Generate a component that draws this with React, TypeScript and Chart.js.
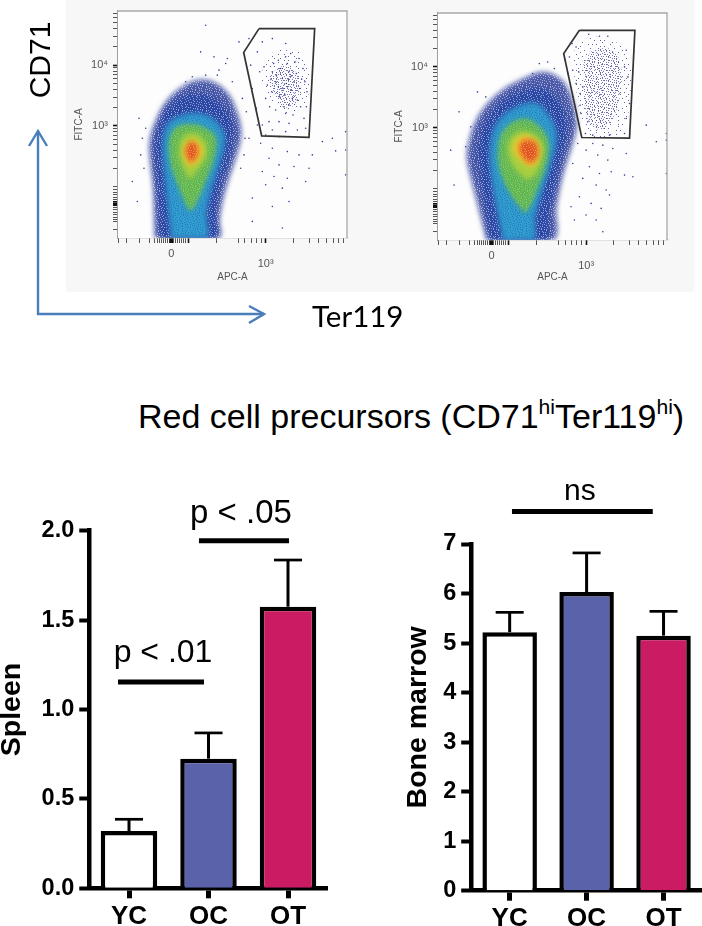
import React, { useEffect, useRef } from "react";
import { Chart, registerables } from "chart.js";

const FONT = "'Liberation Sans', Arial, sans-serif";

// ---------- Flow cytometry plots: values are display channels (0 = the "0" tick on APC-A, 0 = bottom edge on FITC-A)
const apcTicks = [-163, -138, -98, -68, -53, -45, -38, -32, -26, -20, -14, -8, -3, 4, 10, 16, 22, 28, 34, 40, 49, 132, 197, 217, 237, 252, 267, 280, 362, 410, 437, 462, 482, 497, 512];
const apcMajor = [-3, 49, 280];
const apcLabels: Record<number, string | string[]> = { [-3]: "0", 280: ["", "10³"] };
const fitcTicks = [25, 50, 55, 62, 70, 78, 85, 92, 98, 105, 108, 115, 122, 130, 138, 145, 154, 209, 241, 264, 282, 296, 309, 319, 329, 337, 392, 424, 447, 465, 479, 492, 502, 512, 520, 575, 607, 630, 648, 662, 675];
const fitcMajor = [105, 337, 520];
const fitcLabels: Record<number, string> = { 337: "10³", 520: "10⁴" };

const levelColors = ["#4a59a8", "#2a47a6", "#2f9dcf", "#5fb858", "#a8cf3f", "#f2c630", "#e2532a"];

const plot1Levels: number[][][] = [
  [[-53, 0], [-55, 75], [-58, 155], [-68, 245], [-68, 295], [-53, 345], [-23, 405], [22, 450], [72, 475], [122, 470], [167, 435], [192, 385], [207, 315], [192, 245], [172, 185], [152, 115], [142, 55], [140, 0]],
  [[-38, 0], [-40, 95], [-48, 215], [-48, 295], [-28, 365], [12, 415], [72, 435], [132, 415], [172, 365], [182, 315], [167, 235], [142, 155], [127, 75], [127, 0]],
  [[-3, 0], [-13, 95], [-23, 195], [-28, 285], [-13, 345], [32, 370], [82, 375], [127, 355], [157, 305], [142, 225], [117, 145], [102, 75], [102, 0]],
  [[47, 85], [22, 145], [-3, 215], [-10, 285], [7, 330], [47, 343], [92, 335], [130, 305], [127, 245], [102, 175], [77, 115], [60, 85]],
  [[52, 175], [27, 225], [20, 275], [37, 310], [72, 315], [102, 285], [102, 245], [77, 205]],
  [[52, 215], [34, 250], [40, 285], [67, 295], [90, 270], [82, 235]],
  [[54, 225], [40, 260], [54, 290], [74, 280], [74, 245]],
];
const plot2Levels: number[][][] = [
  [[-18, 0], [-38, 80], [-58, 160], [-76, 240], [-70, 300], [-38, 380], [22, 445], [92, 485], [152, 505], [202, 485], [232, 440], [252, 350], [237, 280], [212, 200], [192, 100], [182, 0]],
  [[-8, 0], [-20, 100], [-35, 190], [-43, 270], [-28, 340], [22, 410], [92, 450], [162, 450], [207, 400], [222, 330], [202, 240], [182, 150], [167, 70], [162, 0]],
  [[32, 0], [12, 100], [-3, 190], [-8, 270], [12, 350], [72, 400], [132, 410], [177, 360], [192, 310], [172, 220], [147, 140], [127, 70], [122, 0]],
  [[97, 80], [52, 140], [22, 210], [17, 280], [37, 335], [92, 365], [137, 345], [167, 300], [162, 230], [137, 160], [112, 100]],
  [[102, 180], [57, 230], [47, 290], [77, 325], [122, 320], [152, 285], [147, 240], [127, 195]],
  [[107, 220], [67, 260], [67, 295], [102, 315], [137, 290], [142, 255], [127, 225]],
  [[107, 230], [80, 270], [92, 300], [127, 295], [137, 260], [122, 235]],
];

const plot1Gate = [[260, 630], [427, 630], [410, 303], [268, 307], [214, 558], [260, 630]];
const plot2Gate = [[260, 630], [426, 630], [410, 306], [267, 308], [213, 560], [260, 630]];

// Regions of the gated population: whole spread and denser core
const plot1Spread = [[272, 525], [312, 565], [372, 565], [407, 515], [407, 425], [362, 375], [312, 395], [272, 455]];
const plot1Core = [[292, 495], [342, 520], [377, 485], [372, 405], [332, 395], [302, 445]];
const plot2Spread = [[237, 560], [282, 605], [352, 605], [407, 550], [412, 430], [382, 320], [282, 320], [252, 440]];
const plot2Core = [[272, 530], [302, 570], [362, 570], [387, 500], [367, 380], [322, 330], [282, 370]];

const plot1Events = [
  [342, 465], [330, 480], [350, 500], [318, 455], [365, 470], [338, 430], [355, 445], [325, 510], [372, 495], [345, 525], [300, 500], [310, 470], [382, 450], [360, 420], [335, 395], [350, 400], [322, 425], [375, 415], [345, 455], [332, 450], [348, 478], [358, 488], [312, 490], [296, 478], [388, 478], [392, 510], [368, 530], [340, 545], [318, 535], [304, 525], [355, 555], [380, 540], [398, 470], [404, 440], [298, 440], [285, 460], [275, 515], [262, 500], [280, 420], [292, 395], [310, 385], [340, 375], [362, 370], [385, 395], [402, 395], [395, 360], [350, 345], [320, 350], [290, 350], [270, 340], [300, 325], [340, 320], [375, 325], [400, 330], [252, 390], [240, 450], [235, 520], [255, 560], [270, 590], [300, 600], [340, 585], [255, 340], [280, 310], [320, 305],
  [265, 285], [300, 270], [345, 260], [380, 250], [290, 240], [320, 220], [365, 215], [270, 200], [305, 185], [345, 180], [400, 170], [280, 160], [330, 150], [350, 110], [300, 95], [240, 120], [215, 250], [230, 300], [420, 250], [450, 290], [480, 300], [490, 262], [520, 320], [520, 190], [520, 265], [410, 210], [240, 50], [330, 30], [165, 540], [140, 505], [125, 545], [85, 560], [100, 640], [230, 600], [200, 590], [160, 525], [-100, 360], [-90, 300], [-120, 170], [-105, 110], [-85, 210], [-95, 250], [210, 420], [222, 380], [218, 300], [205, 210], [-80, 330], [135, 490], [180, 470], [60, 485], [40, 470], [100, 490],
];
const plot2Events = [
  [250, 470], [240, 510], [230, 550], [250, 580], [262, 440], [265, 380], [285, 355], [278, 320], [300, 315], [350, 315], [395, 320], [270, 460], [258, 505], [240, 430], [262, 405], [225, 500], [218, 540], [238, 590], [288, 618], [320, 612], [345, 612], [400, 570], [410, 410], [405, 490], [395, 520], [400, 365],
  [300, 290], [330, 285], [360, 275], [280, 270], [255, 290], [315, 255], [345, 240], [290, 220], [320, 200], [355, 205], [270, 185], [310, 165], [340, 150], [350, 135], [260, 130], [295, 110], [325, 95], [280, 75], [310, 60], [330, 25], [240, 230], [235, 100], [400, 260], [395, 195], [420, 190], [520, 320], [520, 200], [520, 300], [490, 295], [460, 345], [245, 60], [140, 530], [120, 500], [165, 535], [185, 515], [-65, 340], [-80, 280], [-115, 165], [-100, 385], [-45, 445], [-20, 430], [-125, 270],
];

// ---------- Bars
const categories = ["YC", "OC", "OT"];
const spleenValues = [0.32, 0.725, 1.575];
const spleenErrorTops = [0.386, 0.869, 1.836];
const spleenTicks = [0, 0.5, 1, 1.5, 2];
const marrowValues = [5.22, 6.03, 5.15];
const marrowErrorTops = [5.62, 6.82, 5.64];
const marrowTicks = [0, 1, 2, 3, 4, 5, 6, 7];
const barColors = ["#ffffff", "#5a62a9", "#cb1c63"];

const spleenSig = [
  { label: "p < .01", from: -0.138, to: 0.943, at: 1.154, textAt: 0.428, size: 32, rise: 20 },
  { label: "p < .05", from: 0.88, to: 2.013, at: 1.944, textAt: 1.409, size: 33, rise: 18 },
];
const marrowSig = [{ label: "ns", from: 0.03, to: 1.86, at: 7.657, textAt: 0.913, size: 30, rise: 11 }];

// Fixed speckle tile for the density texture of the plots
const speckleMask = [
  "#.....#...#.......#.....",
  "...#.......#..#.......#.",
  ".#.....#.........#..#...",
  "....#.....#..#.........#",
  "..#....#.......#..#.....",
  "#.......#..#.......#....",
  "...#.#.......#.#......#.",
  ".......#..#.......#.#...",
  ".#..#.......#.#........#",
  "......#.#.......#..#....",
  "#.........#.#.......#...",
  "..#.#.........#..#.....#",
  ".......#.#.#........#...",
  ".#.........#..#.#.......",
  "....#.#.........#...#.#.",
  "#........#..#.......#...",
  "..#..#.......#.#.......#",
  "......#..#.........#.#..",
  ".#.......#...#.#.......#",
  "....#.#.........#..#....",
  "#.......#..#.#.......#..",
  "..#.........#....#.#....",
  ".....#.#.#......#....#.#",
  ".#.........#.#.......#..",
];

function specklePattern(color: string, spacing = 1) {
  const size = speckleMask.length * spacing;
  const tile = document.createElement("canvas");
  tile.width = size;
  tile.height = size;
  const t = tile.getContext("2d")!;
  t.fillStyle = color;
  speckleMask.forEach((row, y) => {
    for (let x = 0; x < row.length; x++) {
      if (row[x] === "#") t.fillRect(x * spacing, y * spacing, 1, 1);
    }
  });
  return t.createPattern(tile, "repeat")!;
}

// Registered before Filler so that the density levels are softened when filled.
const softLevels = {
  id: "softLevels",
  beforeDatasetDraw(chart: any, args: any) {
    const ds = chart.data.datasets[args.index];
    if (ds && ds.soft) {
      chart.ctx.save();
      chart.ctx.filter = "blur(2.5px)";
    }
  },
  afterDatasetDraw(chart: any, args: any) {
    const ds = chart.data.datasets[args.index];
    if (ds && ds.soft) chart.ctx.restore();
  },
};
Chart.register(softLevels, ...registerables);

const framePlugin = {
  id: "frame",
  beforeDatasetsDraw(chart: any) {
    const { ctx, chartArea: a } = chart;
    ctx.save();
    ctx.fillStyle = "#fdfdfd";
    ctx.fillRect(a.left, a.top, a.right - a.left, a.bottom - a.top);
    ctx.restore();
  },
  afterDatasetsDraw(chart: any) {
    const { ctx, chartArea: a } = chart;
    ctx.save();
    ctx.strokeStyle = "#a8a8a8";
    ctx.lineWidth = 1.3;
    ctx.beginPath();
    ctx.moveTo(a.left, a.top);
    ctx.lineTo(a.right, a.top);
    ctx.lineTo(a.right, a.bottom);
    ctx.stroke();
    ctx.restore();
  },
};

function flowConfig(levels: number[][][], gate: number[][], events: number[][], spread: number[][], core: number[][], box: any) {
  const pts = (a: number[][]) => a.map(([x, y]) => ({ x, y }));
  const shape = (poly: number[][], bg: any, order: number, soft: boolean) => ({
    soft,
    data: pts([...poly, poly[0]]),
    showLine: true,
    tension: 0.35,
    fill: "shape",
    backgroundColor: bg,
    borderWidth: 0,
    pointRadius: 0,
    order,
  });
  const datasets: any[] = levels.map((lv, i) => shape(lv, levelColors[i], 20 - i, true));
  datasets.push(shape(levels[0], specklePattern("rgba(255,255,255,0.5)"), 18.5, false));
  datasets.push(shape(levels[2], specklePattern("rgba(42,71,166,0.45)"), 17.5, false));
  datasets.push(shape(levels[3], specklePattern("rgba(216,216,70,0.5)"), 16.5, false));
  datasets.push(shape(levels[6], specklePattern("rgba(245,200,50,0.6)"), 13.5, false));
  datasets.push(shape(spread, specklePattern("rgba(58,63,148,0.8)", 2), 3, false));
  datasets.push(shape(core, specklePattern("rgba(58,63,148,0.7)"), 2.5, false));
  datasets.push({ data: pts(events), pointRadius: 0.8, pointBorderWidth: 0, pointBackgroundColor: "#3a3f94", order: 2 });
  datasets.push({ data: pts(gate), showLine: true, tension: 0, fill: false, borderColor: "#333333", borderWidth: 1.7, pointRadius: 0, order: 1 });
  const tickFont = { family: FONT, size: 11, lineHeight: 0.9 };
  const titleFont = { family: FONT, size: 10 };
  return {
    type: "scatter" as const,
    data: { datasets },
    plugins: [framePlugin],
    options: {
      animation: false as const,
      responsive: false,
      events: [],
      layout: { padding: { top: box.top, right: box.right, left: 0, bottom: 0 } },
      plugins: { legend: { display: false }, tooltip: { enabled: false } },
      scales: {
        x: {
          type: "linear" as const,
          min: box.xMin,
          max: box.xMax,
          afterBuildTicks: (s: any) => { s.ticks = apcTicks.map((value) => ({ value })); },
          afterFit: (s: any) => { s.height = box.below; },
          border: { color: "#a0a0a0", width: 1.2 },
          grid: {
            drawOnChartArea: false,
            tickLength: 5,
            tickColor: (c: any) => (apcMajor.includes(c.tick?.value) ? "#111111" : "#555555"),
            tickWidth: (c: any) => (c.tick?.value === -3 ? 4 : apcMajor.includes(c.tick?.value) ? 1.6 : 1),
          },
          ticks: {
            autoSkip: false, maxRotation: 0, color: "#555555", font: tickFont, padding: 6,
            callback: (v: any) => apcLabels[v] ?? "",
          },
          title: { display: true, text: "APC-A", color: "#555555", font: titleFont, padding: { top: 2, bottom: 9 } },
        },
        y: {
          type: "linear" as const,
          min: 0,
          max: box.yMax,
          afterBuildTicks: (s: any) => { s.ticks = fitcTicks.map((value) => ({ value })); },
          afterFit: (s: any) => { s.width = box.left; },
          border: { color: "#a0a0a0", width: 1.2 },
          grid: {
            drawOnChartArea: false,
            tickLength: 5,
            tickColor: (c: any) => (fitcMajor.includes(c.tick?.value) ? "#111111" : "#555555"),
            tickWidth: (c: any) => (c.tick?.value === 105 ? 5 : fitcMajor.includes(c.tick?.value) ? 1.6 : 1),
          },
          ticks: {
            autoSkip: false, color: "#555555", font: tickFont, padding: 5,
            callback: (v: any) => fitcLabels[v] ?? "",
          },
          title: { display: true, text: "FITC-A", color: "#555555", font: titleFont, padding: { top: 7, bottom: 0 } },
        },
      },
    },
  };
}

const barMarks = {
  id: "barMarks",
  afterDatasetsDraw(chart: any) {
    const { ctx, scales: { x, y } } = chart;
    const o = chart.options.plugins.barMarks;
    ctx.save();
    ctx.strokeStyle = "#000000";
    o.tops.forEach((top: number, i: number) => {
      const px = x.getPixelForValue(i);
      const yTop = y.getPixelForValue(top);
      const yBar = y.getPixelForValue(o.values[i]);
      ctx.lineWidth = 3;
      ctx.beginPath();
      ctx.moveTo(px, yBar);
      ctx.lineTo(px, yTop);
      ctx.stroke();
      ctx.lineWidth = 2.7;
      ctx.beginPath();
      ctx.moveTo(px - 14, yTop);
      ctx.lineTo(px + 14, yTop);
      ctx.stroke();
    });
    o.sig.forEach((s: any) => {
      const py = y.getPixelForValue(s.at);
      ctx.lineWidth = 5;
      ctx.beginPath();
      ctx.moveTo(x.getPixelForValue(s.from), py);
      ctx.lineTo(x.getPixelForValue(s.to), py);
      ctx.stroke();
      ctx.fillStyle = "#000000";
      ctx.font = `${s.size}px ${FONT}`;
      ctx.textAlign = "center";
      ctx.textBaseline = "alphabetic";
      ctx.fillText(s.label, x.getPixelForValue(s.textAt), py - s.rise);
    });
    ctx.restore();
  },
};

function barConfig(title: string, values: number[], tops: number[], ticks: number[], max: number, sig: any[], box: any, fmt: (v: number) => string) {
  const bold = (size: number) => ({ family: FONT, size, weight: "bold" as const });
  return {
    type: "bar" as const,
    data: {
      labels: categories,
      datasets: [{
        data: values,
        backgroundColor: barColors,
        borderColor: "#000000",
        borderWidth: 4.5,
        borderSkipped: "bottom",
        inflateAmount: 0,
        barThickness: box.bar,
      }],
    },
    plugins: [barMarks],
    options: {
      animation: false as const,
      responsive: false,
      events: [],
      layout: { padding: { top: box.top, right: box.right, left: 0, bottom: 0 } },
      plugins: { legend: { display: false }, tooltip: { enabled: false }, barMarks: { tops, values, sig } },
      scales: {
        x: {
          afterFit: (s: any) => { s.height = box.below; },
          border: { color: "#000000", width: 4.5 },
          grid: { display: true, drawOnChartArea: false, tickLength: 10, tickColor: "#000000", tickWidth: 5, offset: false },
          ticks: { color: "#000000", font: bold(26), padding: 3, maxRotation: 0 },
        },
        y: {
          min: 0,
          max,
          afterBuildTicks: (s: any) => { s.ticks = ticks.map((value) => ({ value })); },
          afterFit: (s: any) => { s.width = box.left; },
          border: { color: "#000000", width: 4.5 },
          grid: { drawOnChartArea: false, tickLength: 10, tickColor: "#000000", tickWidth: 4 },
          ticks: { color: "#000000", font: bold(23.5), padding: 5, callback: (v: any) => fmt(v) },
          title: { display: true, text: title, color: "#000000", font: { ...bold(28.5), lineHeight: 1 }, padding: { top: box.titleTop, bottom: 0 } },
        },
      },
    },
  };
}

const canvasStyle = (left: number, top: number): React.CSSProperties => ({ position: "absolute", left, top, display: "block" });
const textStyle = (left: number, top: number, size: number, family = FONT): React.CSSProperties => ({
  position: "absolute", left, top, fontSize: size, fontFamily: family, lineHeight: 1, whiteSpace: "nowrap", color: "#000000",
});
const supStyle: React.CSSProperties = { fontSize: "0.62em", lineHeight: 0, verticalAlign: "0.66em" };

export default function App() {
  const a = useRef<HTMLCanvasElement>(null);
  const b = useRef<HTMLCanvasElement>(null);
  const c = useRef<HTMLCanvasElement>(null);
  const d = useRef<HTMLCanvasElement>(null);

  useEffect(() => {
    const charts = [
      new Chart(a.current!, flowConfig(plot1Levels, plot1Gate, plot1Events, plot1Spread, plot1Core, { top: 11, right: 23, left: 52, below: 54, xMin: -163, xMax: 524, yMax: 683 }) as any),
      new Chart(b.current!, flowConfig(plot2Levels, plot2Gate, plot2Events, plot2Spread, plot2Core, { top: 13, right: 23, left: 52, below: 52, xMin: -163, xMax: 522, yMax: 682 }) as any),
      new Chart(c.current!, barConfig("Spleen", spleenValues, spleenErrorTops, spleenTicks, 2, spleenSig, { top: 40.7, right: 2.25, left: 89.25, below: 37.7, bar: 56.5, titleTop: -2 }, (v) => v.toFixed(1)) as any),
      new Chart(d.current!, barConfig("Bone marrow", marrowValues, marrowErrorTops, marrowTicks, 7, marrowSig, { top: 74, right: 0, left: 81.2, below: 35.3, bar: 54.5, titleTop: 14 }, (v) => String(v)) as any),
    ];
    return () => charts.forEach((ch) => ch.destroy());
  }, []);

  return (
    <div style={{ position: "absolute", left: 0, top: 0, width: 702, height: 926, background: "#ffffff", overflow: "hidden" }}>
      <div style={{ position: "absolute", left: 66, top: 0, width: 628, height: 292, background: "#f7f7f7" }} />
      <canvas ref={a} width={304} height={292} style={canvasStyle(66, 0)} />
      <canvas ref={b} width={304} height={292} style={canvasStyle(386, 0)} />
      <canvas ref={c} width={330} height={436} style={canvasStyle(0, 490)} />
      <canvas ref={d} width={312} height={456} style={canvasStyle(390, 470)} />
      <svg width={702} height={340} style={{ position: "absolute", left: 0, top: 0, overflow: "visible" }}>
        <g fill="none" stroke="#4a7ebb" strokeWidth={2.4}>
          <path d="M38 131 L38 314 L264 314" />
          <path d="M29 146 L38 131 L47 146" />
          <path d="M249 306 L264 314 L249 323" />
        </g>
      </svg>
      <div style={{ ...textStyle(39.5, 60, 30), transform: "translate(-50%, -50%) rotate(-90deg)" }}>CD71</div>
      <div style={textStyle(312, 301, 29.5, "Lato")}>Ter119</div>
      <div style={textStyle(138, 399, 34)}>
        Red cell precursors (CD71<span style={supStyle}>hi</span>Ter119<span style={supStyle}>hi</span>)
      </div>
    </div>
  );
}
